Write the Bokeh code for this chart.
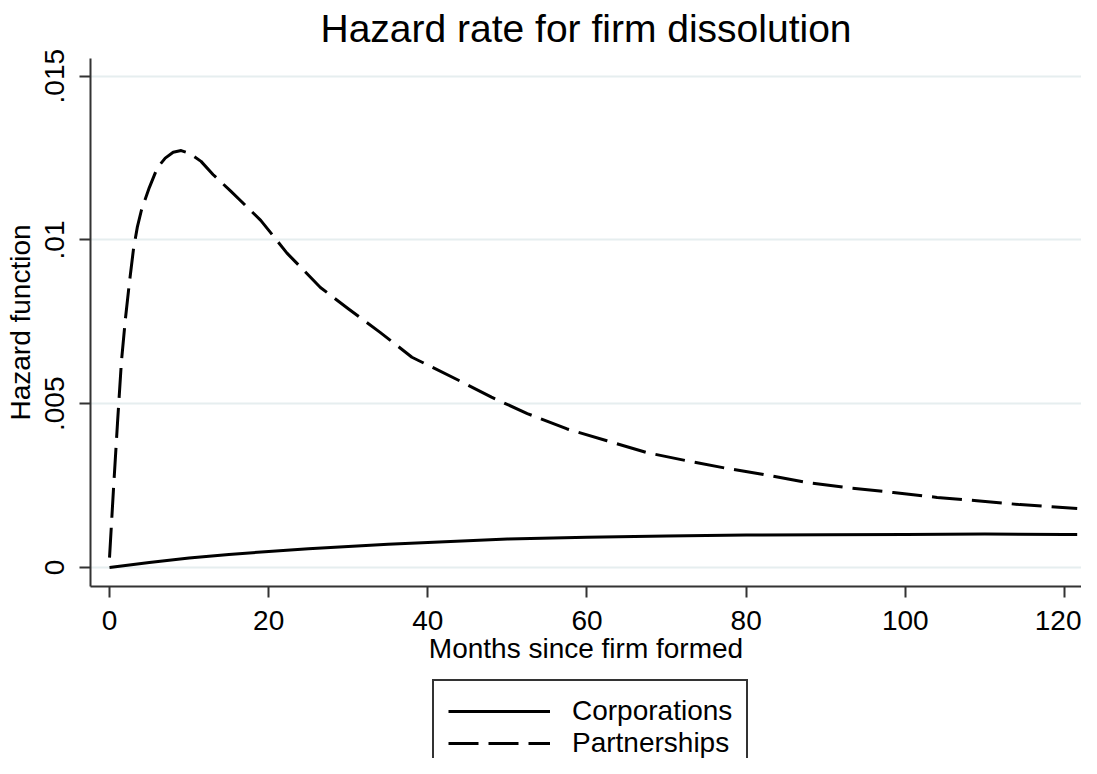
from bokeh.plotting import figure
from bokeh.layouts import column
from bokeh.models import Range1d, Legend, LegendItem, FixedTicker
from bokeh.embed import file_html
from bokeh.resources import INLINE

# ---- data ----
months_corp = [0, 5, 10, 15, 20, 25, 30, 35, 40, 50, 60, 70, 80, 90, 100, 110, 120, 121.6]
hazard_corp = [0.0, 0.00015, 0.00029, 0.00040, 0.00049, 0.00057, 0.00064, 0.00071, 0.00076,
               0.00087, 0.00092, 0.00096, 0.00099, 0.00100, 0.00101, 0.00102, 0.00101, 0.00101]

months_part = [0, 0.5, 1, 1.5, 2, 2.5, 3, 3.5, 4, 5, 6, 7, 8, 9, 10, 11.5, 13, 15.2, 19,
               22.3, 26.5, 30, 34, 38, 44, 48, 52.5, 57.5, 62.5, 67.5, 72.5, 77.5, 82,
               87.5, 93, 98.5, 104, 109, 114.4, 121.6]
hazard_part = [0.0003, 0.0024, 0.0044, 0.0063, 0.0076, 0.0087, 0.0097, 0.0104, 0.0109,
               0.0116, 0.0122, 0.0125, 0.01268, 0.01273, 0.01265, 0.0124, 0.0120, 0.0115,
               0.0106, 0.0096, 0.00855, 0.0079, 0.00718, 0.00642, 0.0057, 0.0052, 0.0047,
               0.00423, 0.00387, 0.00351, 0.00326, 0.00303, 0.00285, 0.0026, 0.00243,
               0.00229, 0.00214, 0.00204, 0.00192, 0.0018]

series_names = ["Corporations", "Partnerships"]
x_ticks = [0, 20, 40, 60, 80, 100, 120]
y_ticks = [0, 0.005, 0.01, 0.015]
y_tick_labels = ["0", ".005", ".01", ".015"]

FONT = "Liberation Sans"
AXIS_COLOR = "#333333"
DASH = "30 10"

p = figure(width=1081, height=676, output_backend="svg", toolbar_location=None,
           x_range=Range1d(-2.39, 122.14), y_range=Range1d(-0.00058, 0.015541),
           min_border_left=90, min_border_right=0, min_border_top=58,
           min_border_bottom=90)

p.title.text = "Hazard rate for firm dissolution"
p.title.align = "center"
p.title.vertical_align = "top"
p.title.text_font = FONT
p.title.text_font_size = "39px"
p.title.text_font_style = "normal"
p.title.text_color = "black"
p.title.standoff = 13

p.outline_line_color = None
p.background_fill_color = "white"
p.border_fill_color = "white"

# grid
p.xgrid.visible = False
p.ygrid.ticker = FixedTicker(ticks=y_ticks)
p.ygrid.grid_line_color = "#e6eeef"
p.ygrid.grid_line_width = 2

# axes
for ax in (p.xaxis[0], p.yaxis[0]):
    ax.axis_line_color = AXIS_COLOR
    ax.axis_line_width = 2
    ax.major_tick_line_color = AXIS_COLOR
    ax.major_tick_line_width = 2
    ax.major_tick_out = 11
    ax.major_tick_in = 0
    ax.minor_tick_line_color = None
    ax.major_label_text_font = FONT
    ax.major_label_text_font_size = "28px"
    ax.major_label_text_color = "black"
    ax.axis_label_text_font = FONT
    ax.axis_label_text_font_size = "28px"
    ax.axis_label_text_font_style = "normal"
    ax.axis_label_text_color = "black"

p.xaxis.ticker = FixedTicker(ticks=x_ticks)
p.xaxis.axis_label = "Months since firm formed"
p.xaxis.major_label_standoff = 13
p.xaxis.axis_label_standoff = 0

p.yaxis.ticker = FixedTicker(ticks=y_ticks)
p.yaxis.major_label_overrides = dict(zip(y_ticks, y_tick_labels))
p.yaxis.major_label_orientation = "vertical"
p.yaxis.axis_label = "Hazard function"
p.yaxis.major_label_standoff = 15
p.yaxis.axis_label_standoff = 7

p.line(months_corp, hazard_corp, line_color="black", line_width=3, line_join="round")
p.line(months_part, hazard_part, line_color="black", line_width=3,
       line_dash=DASH, line_join="round")

# ---- legend panel below the plot (its key lines lie outside its view) ----
p2 = figure(width=1081, height=82, output_backend="svg", toolbar_location=None,
            x_range=Range1d(0, 1), y_range=Range1d(1, 2),
            min_border_left=0, min_border_right=0, min_border_top=0,
            min_border_bottom=0)
p2.axis.visible = False
p2.grid.visible = False
p2.outline_line_color = None
p2.background_fill_color = "white"
p2.border_fill_color = "white"

lg_corp = p2.line(months_corp, hazard_corp, line_color="black", line_width=3)
lg_part = p2.line(months_part, hazard_part, line_color="black", line_width=3,
                  line_dash=DASH)

legend = Legend(items=[LegendItem(label=series_names[0], renderers=[lg_corp]),
                       LegendItem(label=series_names[1], renderers=[lg_part])],
                location=(342, -17), orientation="vertical",
                glyph_width=102, glyph_height=28, label_height=28,
                label_standoff=22, padding=14, spacing=0, margin=0,
                label_text_font=FONT, label_text_font_size="28px",
                label_text_color="black",
                border_line_color=AXIS_COLOR, border_line_width=2,
                border_line_alpha=1.0,
                background_fill_color="white", background_fill_alpha=1.0)
p2.add_layout(legend, "center")

layout = column(p, p2, spacing=0)
open("out.html", "w").write(file_html(layout, INLINE))
